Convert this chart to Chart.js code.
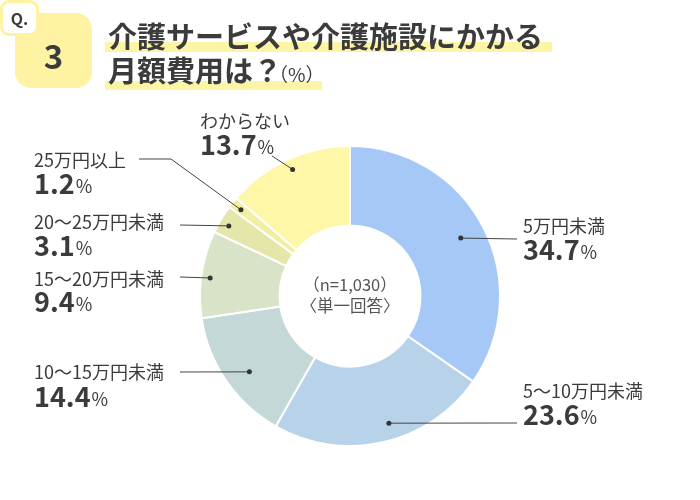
<!DOCTYPE html>
<html>
<head>
<meta charset="utf-8">
<script src="https://cdn.jsdelivr.net/npm/chart.js@4.4.0/dist/chart.umd.min.js"></script>
<style>
  html,body{margin:0;padding:0;background:#fff;}
  #wrap{position:relative;width:700px;height:500px;overflow:hidden;font-family:"Noto Sans CJK JP","Noto Sans",sans-serif;color:#3b3b3b;}
  canvas{position:absolute;left:0;top:0;}
  .band{position:absolute;background:#fdf5a6;}
  .t{position:absolute;white-space:nowrap;font-weight:700;}
  #badge{position:absolute;left:15px;top:13px;width:77px;height:75px;border-radius:16px;background:#fff2a2;}
  #num{position:absolute;left:15px;top:13px;width:77px;height:84px;line-height:84px;text-align:center;font-size:33px;font-weight:700;}
  #qbox{position:absolute;left:0px;top:0px;width:33px;height:30px;border:3px solid #fff2a2;border-radius:9px;background:#fff;}
  #q{position:absolute;left:3px;top:3px;width:33px;height:30px;line-height:30px;text-align:center;font-size:16px;font-weight:700;}
</style>
</head>
<body>
<div id="wrap">
  <canvas id="c" width="700" height="500"></canvas>
  <div id="badge"></div>
  <div id="num">3</div>
  <div id="qbox"></div>
  <div id="q">Q.</div>
  <div class="band" style="left:105px;top:42px;width:447px;height:10px;"></div>
  <div class="band" style="left:105px;top:81px;width:217px;height:9px;"></div>
  <div class="t" style="left:108px;top:20px;font-size:29px;line-height:30px;">介護サービスや介護施設にかかる</div>
  <div class="t" style="left:108px;top:54px;font-size:29px;line-height:30px;">月額費用は？<span style="font-size:19px;font-weight:400;margin-left:-13px;">（%）</span></div>
</div>
<script>
// ---- data ----
const categories = ["5万円未満","5～10万円未満","10～15万円未満","15～20万円未満","20～25万円未満","25万円以上","わからない"];
const values = [34.7, 23.6, 14.4, 9.4, 3.1, 1.2, 13.7];
const valueLabels = ["34.7","23.6","14.4","9.4","3.1","1.2","13.7"];
const colors = ["#a6c8f7","#b8d2e9","#c4d8d8","#d9e3c8","#e5e6aa","#f3efa2","#fff7a8"];
const centerLines = ["（n=1,030）","〈単一回答〉"];

// ---- label layout (annotation placement only) ----
// x: text left; ly: label middle y; ny: number middle y; t: fraction along arc for dot; r: dot radius; pts: leader line points
const layout = [
  {x:523, ly:226, ny:250, t:0.50, r:125, pts:[[517,239]]},
  {x:523, ly:391, ny:415, t:0.45, r:133, pts:[[517,423]]},
  {x:34,  ly:372, ny:397, t:0.45, r:126, pts:[[180,372]]},
  {x:34,  ly:279, ny:302, t:0.47, r:141, pts:[[180,277]]},
  {x:34,  ly:222, ny:246, t:0.43, r:140, pts:[[180,225]]},
  {x:34,  ly:160, ny:184, t:0.44, r:139, pts:[[171,159],[139,159]]},
  {x:200, ly:121, ny:145, t:0.505,r:139, pts:[[272,156]]}
];

const FONT = '"Noto Sans CJK JP","Noto Sans",sans-serif';

const labelPlugin = {
  id: 'labels',
  afterDraw(chart){
    const ctx = chart.ctx;
    const meta = chart.getDatasetMeta(0);
    ctx.save();
    meta.data.forEach((arc, i) => {
      const L = layout[i];
      const p = arc.getProps(['x','y','startAngle','endAngle'], true);
      const a = p.startAngle + (p.endAngle - p.startAngle) * L.t;
      const dx = p.x + Math.cos(a) * L.r;
      const dy = p.y + Math.sin(a) * L.r;
      // leader line
      ctx.strokeStyle = '#444';
      ctx.lineWidth = 1;
      ctx.beginPath();
      ctx.moveTo(dx, dy);
      L.pts.forEach(q => ctx.lineTo(q[0], q[1]));
      ctx.stroke();
      ctx.fillStyle = '#333';
      ctx.beginPath();
      ctx.arc(dx, dy, 2.5, 0, Math.PI*2);
      ctx.fill();
      // texts
      ctx.fillStyle = '#3b3b3b';
      ctx.textBaseline = 'middle';
      ctx.textAlign = 'left';
      ctx.font = '400 18px ' + FONT;
      ctx.fillText(categories[i], L.x, L.ly);
      ctx.font = '700 27px ' + FONT;
      ctx.fillText(valueLabels[i], L.x, L.ny);
      const w = ctx.measureText(valueLabels[i]).width;
      ctx.font = '400 18px ' + FONT;
      ctx.textBaseline = 'alphabetic';
      ctx.fillText('%', L.x + w + 1, L.ny + 9);
    });
    // center text
    const c = meta.data[0].getProps(['x','y'], true);
    ctx.fillStyle = '#555';
    ctx.textAlign = 'center';
    ctx.textBaseline = 'middle';
    ctx.font = '400 16.5px ' + FONT;
    ctx.fillText(centerLines[0], c.x, c.y - 11);
    ctx.fillText(centerLines[1], c.x, c.y + 10);
    ctx.restore();
  }
};

new Chart(document.getElementById('c'), {
  type: 'doughnut',
  data: {
    labels: categories,
    datasets: [{
      data: values,
      backgroundColor: colors,
      borderColor: '#ffffff',
      borderWidth: 2,
      radius: 150,
      cutout: '47%'
    }]
  },
  options: {
    responsive: false,
    animation: false,
    layout: { padding: { top: 92, bottom: 0, left: 0, right: 0 } },
    plugins: { legend: { display: false }, tooltip: { enabled: false } }
  },
  plugins: [labelPlugin]
});
</script>
</body>
</html>
